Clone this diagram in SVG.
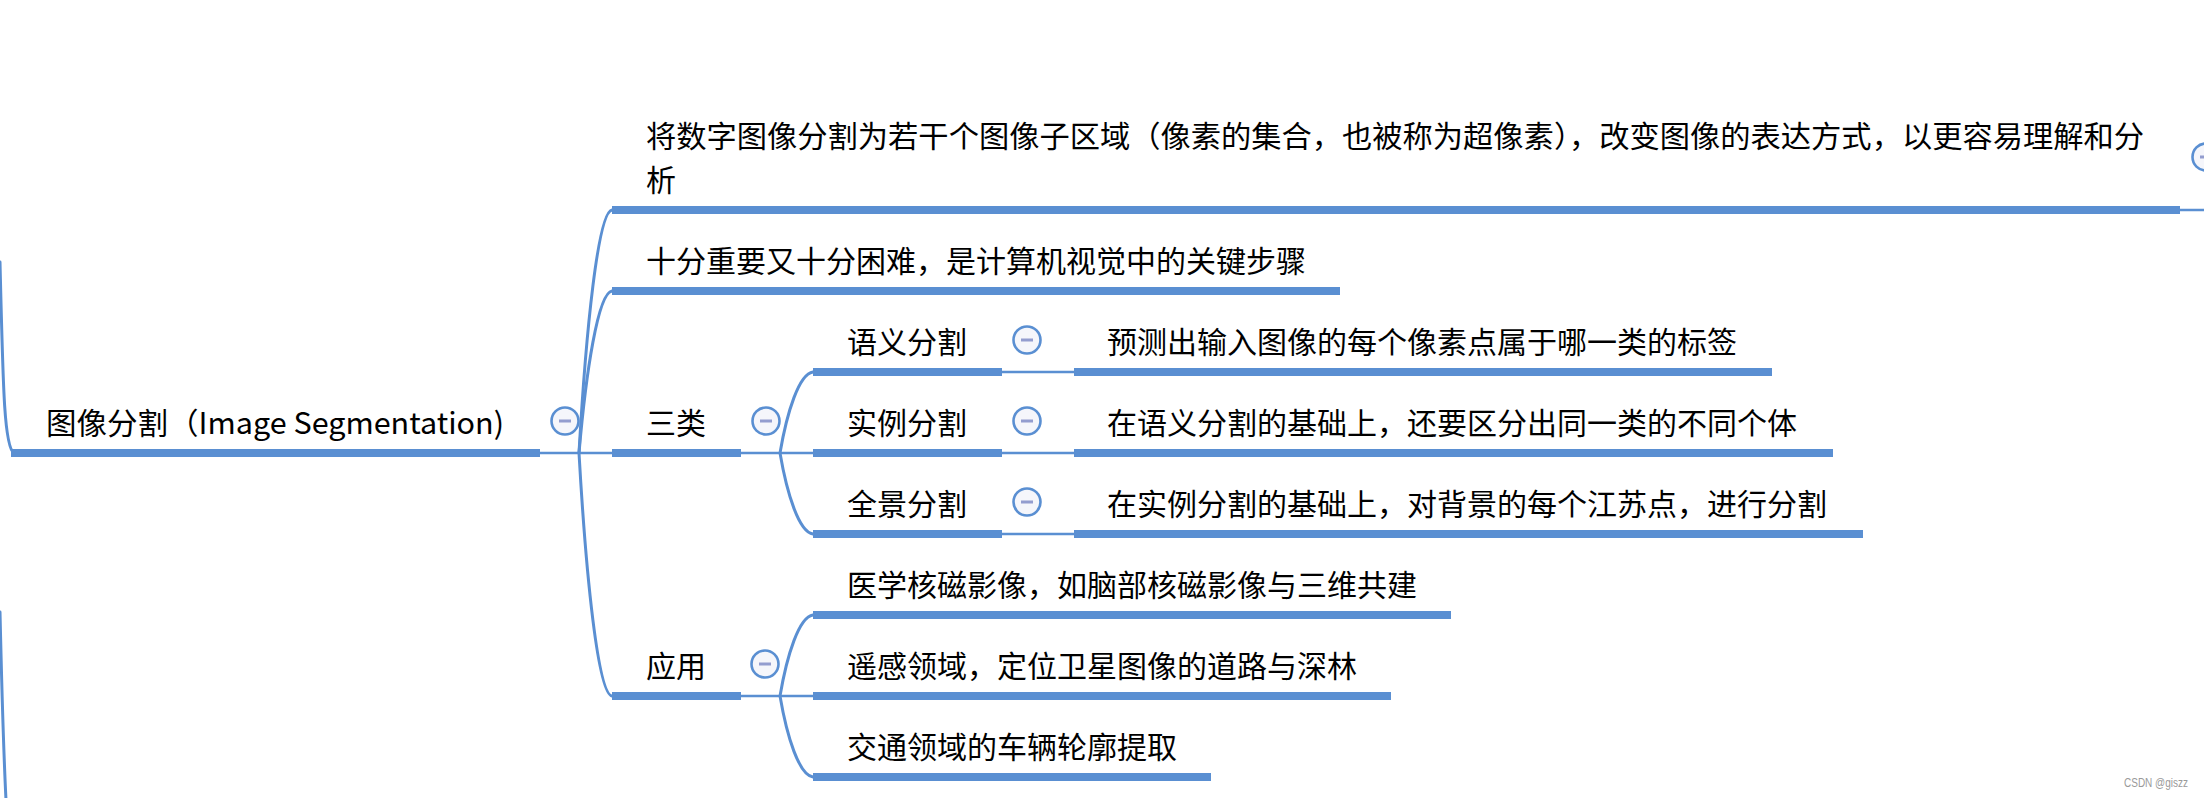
<svg xmlns="http://www.w3.org/2000/svg" width="2204" height="798" viewBox="0 0 2204 798">
<style>
.t{font-family:"Noto Sans CJK SC","Noto Sans",sans-serif;font-size:30px;fill:#000}
.bar{fill:#5a8fd2}
.c{fill:none;stroke:#5a8fd2;stroke-width:3;stroke-linecap:round}
.l{fill:none;stroke:#5a8fd2;stroke-width:2.5}
.wm{font-family:"Liberation Sans","Noto Sans",sans-serif;font-size:13px;fill:#9a9a9a}
</style>
<defs>
<g id="tog">
<circle cx="0" cy="0" r="13.5" fill="#f5f6fb" stroke="#5a8fd2" stroke-width="2.6"/>
<line x1="-6" y1="0" x2="6" y2="0" stroke="#939dcf" stroke-width="3"/>
</g>
</defs>
<rect width="2204" height="798" fill="#fff"/>

<g id="connectors">
<path class="c" d="M0 262 C3 385 4 447 14 453"/>
<path class="c" d="M0 612 C2 700 4 760 6 800"/>
<line class="l" x1="540" y1="453" x2="612" y2="453"/>
<path class="c" d="M579 453 C586 330 598 212 612 210"/>
<path class="c" d="M579 453 C586 372 598 293 612 291"/>
<path class="c" d="M579 453 C586 576 598 694 612 696"/>
<line class="l" x1="2180" y1="210" x2="2204" y2="210"/>
<line class="l" x1="741" y1="453" x2="813" y2="453"/>
<path class="c" d="M780 453 C787 412 799 374 813 372"/>
<path class="c" d="M780 453 C787 494 799 532 813 534"/>
<line class="l" x1="741" y1="696" x2="813" y2="696"/>
<path class="c" d="M780 696 C787 655 799 617 813 615"/>
<path class="c" d="M780 696 C787 737 799 775 813 777"/>
<line class="l" x1="1002" y1="372" x2="1074" y2="372"/>
<line class="l" x1="1002" y1="453" x2="1074" y2="453"/>
<line class="l" x1="1002" y1="534" x2="1074" y2="534"/>
</g>

<g id="root">
<rect class="bar" x="11" y="449" width="529" height="8"/>
<text class="t" x="46" y="434" textLength="458" lengthAdjust="spacingAndGlyphs">图像分割（Image Segmentation)</text>
<use href="#tog" x="565" y="421"/>
</g>

<g id="n-define">
<rect class="bar" x="612" y="206" width="1568" height="8"/>
<text class="t"><tspan x="646" y="147" textLength="1498" lengthAdjust="spacingAndGlyphs">将数字图像分割为若干个图像子区域（像素的集合，也被称为超像素），改变图像的表达方式，以更容易理解和分</tspan><tspan x="646" y="191">析</tspan></text>
<use href="#tog" x="2206" y="157"/>
</g>

<g id="n-important">
<rect class="bar" x="612" y="287" width="728" height="8"/>
<text class="t" x="646" y="272">十分重要又十分困难，是计算机视觉中的关键步骤</text>
</g>

<g id="n-types">
<rect class="bar" x="612" y="449" width="129" height="8"/>
<text class="t" x="646" y="434">三类</text>
<use href="#tog" x="766" y="421"/>
</g>

<g id="n-semantic">
<rect class="bar" x="813" y="368" width="189" height="8"/>
<text class="t" x="847" y="353">语义分割</text>
<use href="#tog" x="1027" y="340"/>
</g>

<g id="n-instance">
<rect class="bar" x="813" y="449" width="189" height="8"/>
<text class="t" x="847" y="434">实例分割</text>
<use href="#tog" x="1027" y="421"/>
</g>

<g id="n-panoptic">
<rect class="bar" x="813" y="530" width="189" height="8"/>
<text class="t" x="847" y="515">全景分割</text>
<use href="#tog" x="1027" y="502"/>
</g>

<g id="n-semantic-desc">
<rect class="bar" x="1074" y="368" width="698" height="8"/>
<text class="t" x="1107" y="353">预测出输入图像的每个像素点属于哪一类的标签</text>
</g>

<g id="n-instance-desc">
<rect class="bar" x="1074" y="449" width="759" height="8"/>
<text class="t" x="1107" y="434">在语义分割的基础上，还要区分出同一类的不同个体</text>
</g>

<g id="n-panoptic-desc">
<rect class="bar" x="1074" y="530" width="789" height="8"/>
<text class="t" x="1107" y="515">在实例分割的基础上，对背景的每个江苏点，进行分割</text>
</g>

<g id="n-apps">
<rect class="bar" x="612" y="692" width="129" height="8"/>
<text class="t" x="646" y="677">应用</text>
<use href="#tog" x="765" y="664"/>
</g>

<g id="n-medical">
<rect class="bar" x="813" y="611" width="638" height="8"/>
<text class="t" x="847" y="596">医学核磁影像，如脑部核磁影像与三维共建</text>
</g>

<g id="n-remote">
<rect class="bar" x="813" y="692" width="578" height="8"/>
<text class="t" x="847" y="677">遥感领域，定位卫星图像的道路与深林</text>
</g>

<g id="n-traffic">
<rect class="bar" x="813" y="773" width="398" height="8"/>
<text class="t" x="847" y="758">交通领域的车辆轮廓提取</text>
</g>

<text class="wm" x="2124" y="787" textLength="64" lengthAdjust="spacingAndGlyphs">CSDN @giszz</text>
</svg>
